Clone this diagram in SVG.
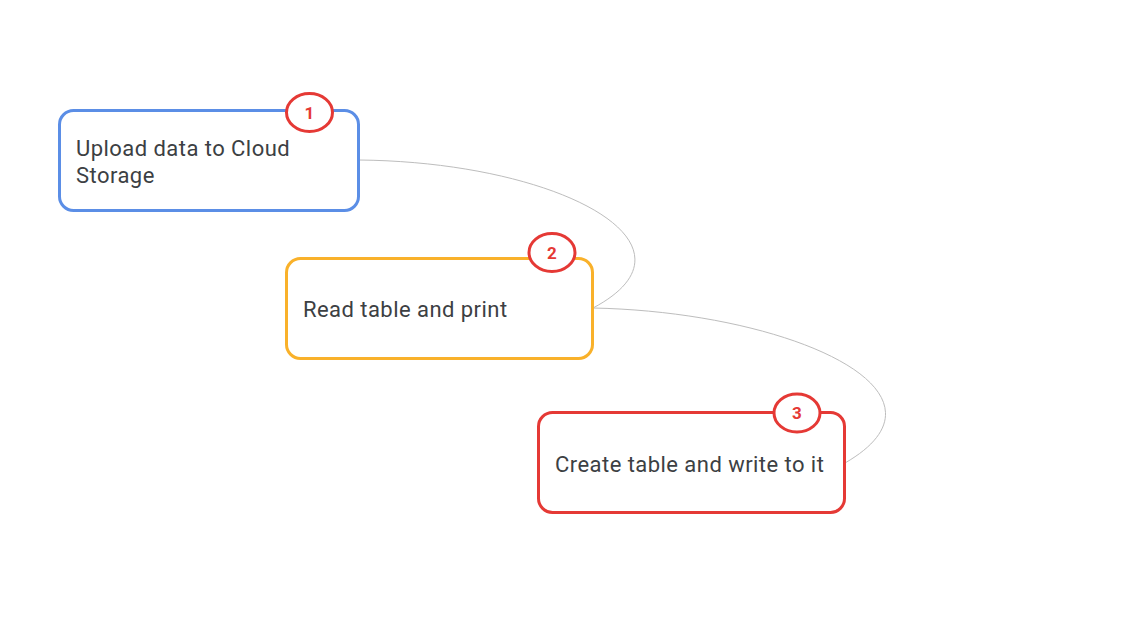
<svg xmlns="http://www.w3.org/2000/svg" width="1131" height="624" viewBox="0 0 1131 624">
<style>
.box{fill:#fff;stroke-width:3}
.badge{fill:#fff;stroke:#e53935;stroke-width:3}
.num{font-family:Roboto,"Liberation Sans",sans-serif;font-size:17px;font-weight:bold;fill:#e53935;text-anchor:middle}
.lbl{font-family:Roboto,"Liberation Sans",sans-serif;font-size:22px;letter-spacing:0.45px;fill:#3c4043}
.conn{fill:none;stroke:#bdbdbd;stroke-width:1}
</style>
<rect width="1131" height="624" fill="#fff"/>
<g id="connectors">
<path class="conn" d="M359,160 C560,162 712,245 593,308"/>
<path class="conn" d="M593,308 C790,312 968,392 845,463"/>
</g>
<g id="node1">
<rect class="box" x="59.5" y="110.5" width="299" height="100" rx="14" stroke="#5b8ee6"/>
<ellipse class="badge" cx="309.5" cy="112.5" rx="23" ry="19"/>
<text class="num" x="309.5" y="118.5">1</text>
<text class="lbl" x="76" y="156">Upload data to Cloud</text>
<text class="lbl" x="76" y="183">Storage</text>
</g>
<g id="node2">
<rect class="box" x="286.5" y="258.5" width="306" height="100" rx="14" stroke="#f9b12a"/>
<ellipse class="badge" cx="552" cy="252.5" rx="23" ry="19"/>
<text class="num" x="552" y="258.5">2</text>
<text class="lbl" x="303" y="317">Read table and print</text>
</g>
<g id="node3">
<rect class="box" x="538.5" y="412.5" width="306" height="100" rx="14" stroke="#e53935"/>
<ellipse class="badge" cx="797" cy="413" rx="23" ry="19"/>
<text class="num" x="797" y="419">3</text>
<text class="lbl" x="555" y="472">Create table and write to it</text>
</g>
</svg>
